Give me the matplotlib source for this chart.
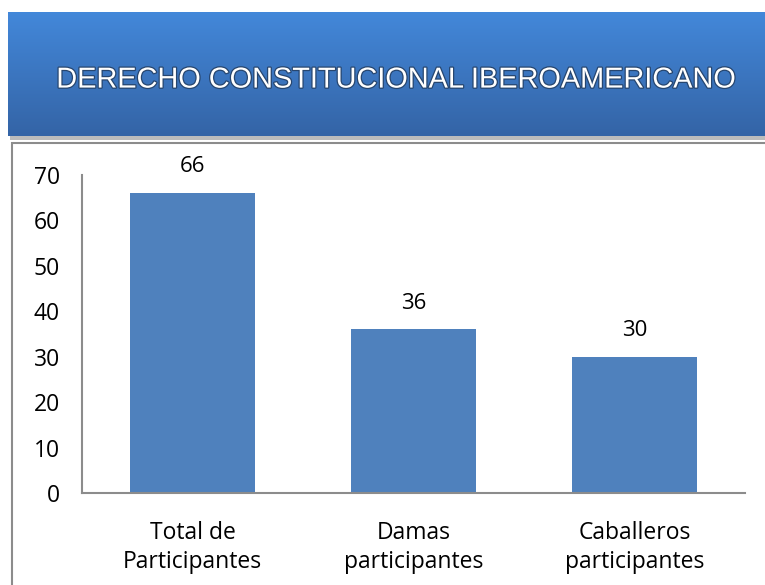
import numpy as np
import matplotlib.pyplot as plt
from matplotlib.patches import Rectangle
import matplotlib.patheffects as pe

# data
categorias = ['Total de\nParticipantes', 'Damas\nparticipantes', 'Caballeros\nparticipantes']
valores = [66, 36, 30]
titulo = 'DERECHO CONSTITUCIONAL IBEROAMERICANO'

W, H = 765, 585
fig = plt.figure(figsize=(W / 100, H / 100), dpi=100)
fig.patch.set_facecolor('white')

def fx(x):
    return x / W

def fy(y):
    return 1 - y / H

# banner shadow
fig.patches.append(Rectangle((fx(10), fy(140)), fx(770), 128 / H, transform=fig.transFigure,
                             facecolor='#a0a0a0', edgecolor='none', alpha=0.7, zorder=0))

# banner with vertical gradient
ax_b = fig.add_axes([fx(8), fy(136), fx(760), 124 / H])
ax_b.set_zorder(1)
grad = np.linspace(0, 1, 256).reshape(-1, 1)
top = np.array([0x43, 0x88, 0xda]) / 255
bot = np.array([0x34, 0x64, 0xa6]) / 255
img = top + (bot - top) * grad[:, :, None]
ax_b.imshow(img, aspect='auto', extent=[0, 1, 0, 1])
ax_b.set_xlim(0, 1)
ax_b.set_ylim(0, 1)
ax_b.axis('off')
ax_b.text(fx(396 - 8) / fx(760), 0.455, titulo, transform=ax_b.transAxes,
          ha='center', va='center', color='white', fontsize=20.8,
          family=['Liberation Sans Narrow', 'Liberation Sans', 'DejaVu Sans'],
          path_effects=[pe.withStroke(linewidth=1.8, foreground='#27466f')])

# chart border
fig.patches.append(Rectangle((fx(12), fy(600)), fx(770), 457 / H, transform=fig.transFigure,
                             facecolor='none', edgecolor='#8c8c8c', linewidth=1.5, zorder=1))

ax = fig.add_axes([fx(82), fy(493), fx(663), 318 / H])
ax.set_zorder(2)
x = np.arange(len(valores))
bars = ax.bar(x, valores, width=0.57, color='#4f81bd', zorder=2)
for b, v in zip(bars, valores):
    ax.text(b.get_x() + b.get_width() / 2, v + 5.8, str(v), ha='center', va='center',
            fontsize=16, family='Open Sans')

ax.set_xlim(-0.5, 2.5)
ax.set_ylim(0, 70)
ax.set_yticks(range(0, 71, 10))
ax.set_xticks(x)
ax.set_xticklabels(categorias, fontsize=16.5, family='Open Sans', linespacing=1.3)
for lab in ax.get_yticklabels():
    lab.set_family('Open Sans')
    lab.set_fontsize(16.5)
ax.tick_params(axis='y', length=0, pad=16)
ax.tick_params(axis='x', length=0, pad=20)
for s in ['top', 'right']:
    ax.spines[s].set_visible(False)
for s in ['left', 'bottom']:
    ax.spines[s].set_color('#8c8c8c')
    ax.spines[s].set_linewidth(1.5)

fig.savefig('out.png', dpi=100)
